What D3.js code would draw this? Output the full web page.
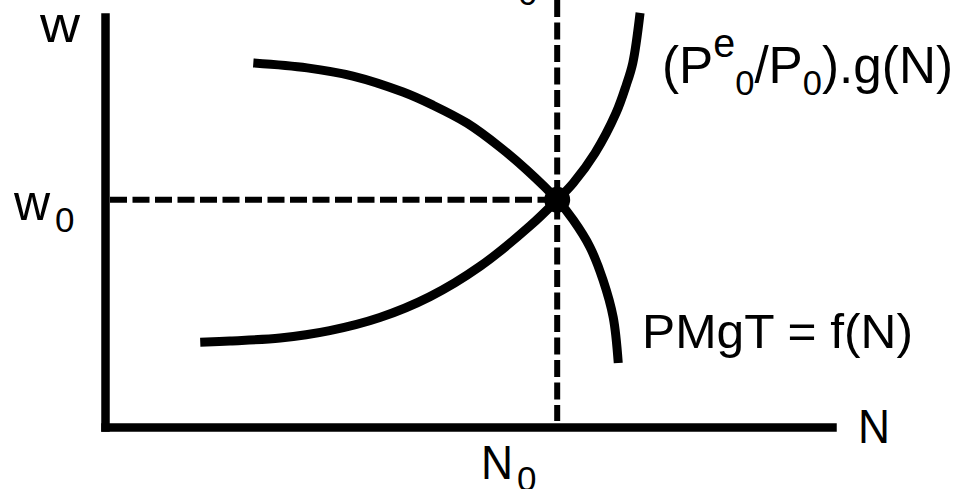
<!DOCTYPE html>
<html>
<head>
<meta charset="utf-8">
<script src="https://cdn.jsdelivr.net/npm/d3@7"></script>
<style>
  html, body { margin: 0; padding: 0; background: #fff; }
  svg { display: block; }
  text { font-family: "Liberation Sans", Arial, sans-serif; fill: #000; }
</style>
</head>
<body>
<div id="chart"></div>
<script>
// labour demand (marginal product) curve, N vs w
const demandN = [20.4, 27.8, 34.1, 40.99, 45.1, 49.8, 54.3, 58.0, 62.2, 64.4, 66.7, 68.5, 69.9, 70.6];
const demandW = [88.8, 87.6, 85.6, 81.7, 78.5, 74.1, 68.3, 62.7, 55.4, 50.5, 43.9, 35.9, 26.8, 15.6];

// labour supply curve
const supplyN = [13.1, 17.2, 24.1, 30.9, 37.8, 44.7, 51.6, 58.5, 62.2, 64.4, 67.4, 70.3, 71.7, 72.6, 73.6];
const supplyW = [20.7, 21.0, 21.7, 23.5, 26.7, 31.8, 39.2, 49.1, 55.4, 59.5, 66.8, 76.6, 83.4, 88.8, 101.0];

// equilibrium
const eqN = 62.2;
const eqW = 55.4;

const width = 960, height = 489;

const svg = d3.select("#chart").append("svg")
    .attr("width", width)
    .attr("height", height);

const x = d3.scaleLinear().domain([0, 100]).range([105, 832]);
const y = d3.scaleLinear().domain([0, 100]).range([427, 17]);

// axes without ticks, only the thick domain line
const axisStyle = g => g.select(".domain")
    .attr("stroke", "#000")
    .attr("stroke-width", 8.5)
    .attr("stroke-linecap", "square");

svg.append("g")
    .attr("transform", `translate(${x(0)},0)`)
    .call(d3.axisLeft(y).tickValues([]).tickSizeOuter(0))
    .call(axisStyle);

svg.append("g")
    .attr("transform", `translate(0,${y(0)})`)
    .call(d3.axisBottom(x).tickValues([]).tickSizeOuter(0))
    .call(axisStyle);

// dashed guide lines
const dash = "17 5.5";
svg.append("line")
    .attr("x1", x(0) + 5).attr("x2", x(eqN))
    .attr("y1", y(eqW)).attr("y2", y(eqW))
    .attr("stroke", "#000").attr("stroke-width", 6)
    .attr("stroke-dasharray", dash);

svg.append("line")
    .attr("x1", x(eqN)).attr("x2", x(eqN))
    .attr("y1", 0).attr("y2", y(0) - 6)
    .attr("stroke", "#000").attr("stroke-width", 6)
    .attr("stroke-dasharray", dash);

const line = d3.line()
    .x(d => x(d[0]))
    .y(d => y(d[1]))
    .curve(d3.curveCatmullRom.alpha(0.5));

const demand = d3.zip(demandN, demandW);
const supply = d3.zip(supplyN, supplyW);

[demand, supply].forEach(pts => {
    svg.append("path")
        .datum(pts)
        .attr("d", line)
        .attr("fill", "none")
        .attr("stroke", "#000")
        .attr("stroke-width", 9)
        .attr("stroke-linecap", "butt");
});

svg.append("circle")
    .attr("cx", x(eqN))
    .attr("cy", y(eqW))
    .attr("r", 13)
    .attr("fill", "#000");

// labels
svg.append("text")
    .attr("x", 40).attr("y", 42)
    .attr("font-size", 50)
    .attr("textLength", 40).attr("lengthAdjust", "spacingAndGlyphs")
    .text("w");

const w0 = svg.append("text").attr("x", 14).attr("y", 220).attr("font-size", 50);
w0.append("tspan").text("w");
w0.append("tspan").attr("x", 55).attr("dy", 12).attr("font-size", 35).text("0");

svg.append("text")
    .attr("x", 858).attr("y", 443)
    .attr("font-size", 49)
    .attr("textLength", 32).attr("lengthAdjust", "spacingAndGlyphs")
    .text("N");

const n0 = svg.append("text").attr("x", 481).attr("y", 479).attr("font-size", 49);
n0.append("tspan").attr("textLength", 32).attr("lengthAdjust", "spacingAndGlyphs").text("N");
n0.append("tspan").attr("x", 517).attr("dy", 12).attr("font-size", 35).text("0");

// cut-off label at the top edge
svg.append("text")
    .attr("x", 518).attr("y", 5)
    .attr("font-size", 35)
    .text("0");

svg.append("text")
    .attr("x", 642).attr("y", 348)
    .attr("font-size", 49)
    .attr("textLength", 271).attr("lengthAdjust", "spacingAndGlyphs")
    .text("PMgT = f(N)");

const g = svg.append("text").attr("x", 662).attr("y", 83).attr("font-size", 52)
    .attr("textLength", 291).attr("lengthAdjust", "spacingAndGlyphs");
g.append("tspan").text("(P");
g.append("tspan").attr("dy", -26).attr("font-size", 40).text("e");
g.append("tspan").attr("dy", 38).attr("font-size", 35).text("0");
g.append("tspan").attr("dy", -12).text("/P");
g.append("tspan").attr("dy", 12).attr("font-size", 35).text("0");
g.append("tspan").attr("dy", -12).text(").g(N)");
</script>
</body>
</html>
